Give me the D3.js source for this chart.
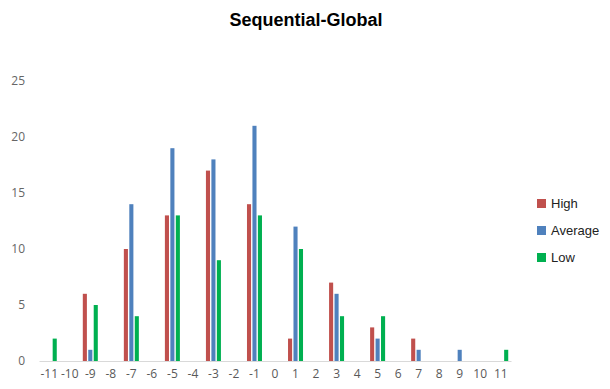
<!DOCTYPE html>
<html><head><meta charset="utf-8">
<script src="https://cdn.jsdelivr.net/npm/d3@7"></script>
<style>body{margin:0;background:#fff}</style>
</head><body>
<svg id="chart" width="610" height="389"></svg>
<script>
const categories = [-11,-10,-9,-8,-7,-6,-5,-4,-3,-2,-1,0,1,2,3,4,5,6,7,8,9,10,11];
const high    = [0,0,6,0,10,0,13,0,17,0,14,0,2,0,7,0,3,0,2,0,0,0,0];
const average = [0,0,1,0,14,0,19,0,18,0,21,0,12,0,6,0,2,0,1,0,1,0,0];
const low     = [2,0,5,0,4,0,13,0,9,0,13,0,10,0,4,0,4,0,0,0,0,0,1];
const seriesNames = ["High","Average","Low"];
const colors = ["#C0504D","#4F81BD","#00B050"];
const yTicks = [0,5,10,15,20,25];

const svg = d3.select("#chart");
const x = d3.scaleBand().domain(categories.map(String)).range([39,511]);
const y = d3.scaleLinear().domain([0,25]).range([361,81]);
const sub = d3.scaleBand().domain(seriesNames).range([-7.5,7.5]).paddingInner(0.25);
const series = [high, average, low];

svg.append("text").attr("x",306).attr("y",26).attr("text-anchor","middle")
  .attr("font-family","Liberation Sans, Arial, sans-serif").attr("font-weight","bold")
  .attr("font-size",18).attr("fill","#000").text("Sequential-Global");

// y axis labels
const yAxis = d3.axisLeft(y).tickValues(yTicks).tickSize(0).tickPadding(0);
const ya = svg.append("g").attr("transform","translate(25,0)").call(yAxis);
ya.select(".domain").remove();
ya.selectAll("text").attr("font-family","Open Sans, Liberation Sans, sans-serif").attr("font-size",12).attr("fill","#666");

// x axis
const xAxis = d3.axisBottom(x).tickSize(0).tickPadding(8);
const xa = svg.append("g").attr("transform","translate(0,361)").call(xAxis);
xa.select(".domain").attr("stroke","#D9D9D9");
xa.selectAll("text").attr("font-family","Open Sans, Liberation Sans, sans-serif").attr("font-size",12).attr("fill","#595959");

// bars
series.forEach((vals,si)=>{
  svg.append("g").selectAll("rect").data(vals.map((v,i)=>({c:String(categories[i]),v})).filter(d=>d.v>0))
    .join("rect")
    .attr("x",d=>x(d.c)+x.bandwidth()/2+sub(seriesNames[si]))
    .attr("width",sub.bandwidth())
    .attr("y",d=>y(d.v)).attr("height",d=>y(0)-y(d.v))
    .attr("fill",colors[si]);
});

// legend
const lg = svg.append("g").attr("transform","translate(537,199)");
seriesNames.forEach((n,i)=>{
  const g = lg.append("g").attr("transform",`translate(0,${i*27})`);
  g.append("rect").attr("width",9).attr("height",9).attr("fill",colors[i]);
  g.append("text").attr("x",14).attr("y",9).attr("font-family","Liberation Sans, Arial, sans-serif")
    .attr("font-size",13).attr("fill","#222").text(n);
});
</script>
</body></html>
